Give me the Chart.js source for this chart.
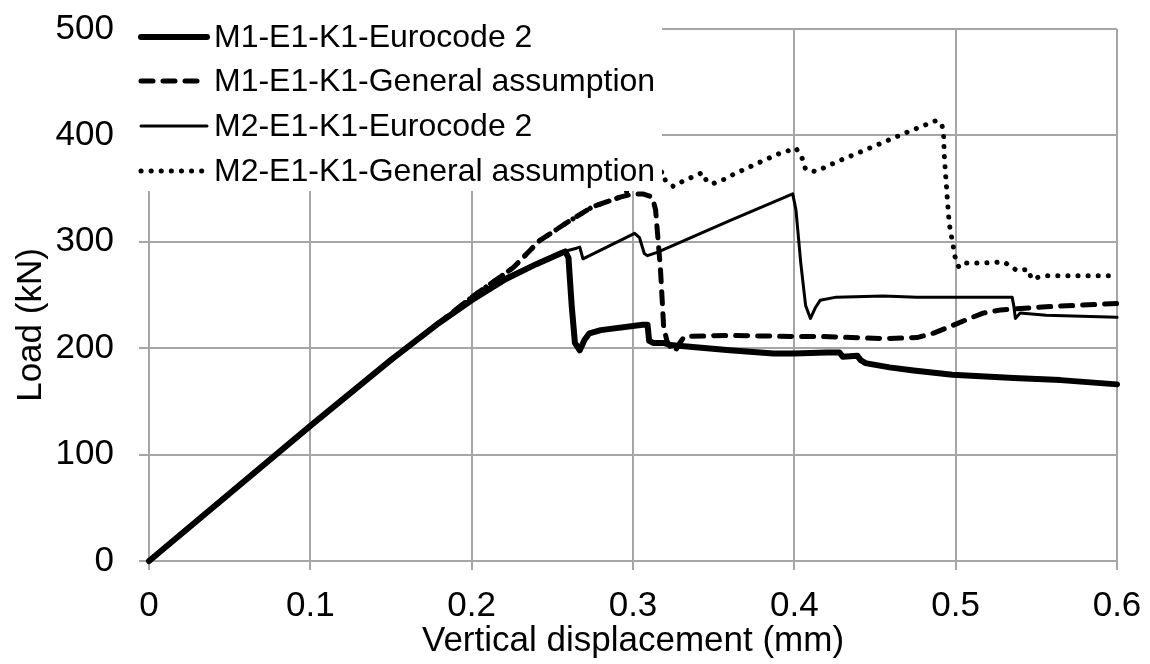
<!DOCTYPE html>
<html><head><meta charset="utf-8">
<script src="https://cdn.jsdelivr.net/npm/chart.js@4.4.1/dist/chart.umd.min.js"></script>
<style>html,body{margin:0;padding:0;background:#fff;}#wrap{width:1150px;height:664px;}</style>
</head><body><div id="wrap"><canvas id="c" width="1150" height="664"></canvas></div>
<script>
const seriesNames = ['M1-E1-K1-Eurocode 2','M1-E1-K1-General assumption','M2-E1-K1-Eurocode 2','M2-E1-K1-General assumption'];
const xTickValues = [0,0.1,0.2,0.3,0.4,0.5,0.6];
const xTickLabels = ['0','0.1','0.2','0.3','0.4','0.5','0.6'];
const yTickValues = [0,100,200,300,400,500];
const yTickLabels = ['0','100','200','300','400','500'];
const xAxisTitle = 'Vertical displacement (mm)';
const yAxisTitle = 'Load (kN)';

// M1-E1-K1-Eurocode 2 (thick solid)
const m1Ec2X = [0,0.1,0.15,0.18,0.2,0.22,0.24,0.255,0.258,0.260,0.262,0.264,0.267,0.270,0.273,0.28,0.306,0.309,0.310,0.3125,0.319,0.323,0.33,0.36,0.387,0.40,0.42,0.428,0.430,0.439,0.441,0.444,0.459,0.474,0.498,0.536,0.565,0.6];
const m1Ec2Y = [0,127,189,224,245,264,279,289,291,285,240,205,198,208,214,217,222,222,207,205,205,203,202,198,195,195,196,196,192,193,189,186,182,179,175,172,170,166];

// M1-E1-K1-General assumption (dashed)
const m1GaX = [0,0.1,0.15,0.18,0.2,0.226,0.242,0.259,0.275,0.292,0.300,0.306,0.312,0.314,0.317,0.319,0.321,0.324,0.326,0.329,0.332,0.36,0.40,0.416,0.455,0.476,0.486,0.496,0.507,0.517,0.528,0.538,0.556,0.6];
const m1GaY = [0,127,189,224,248,276,301,318,333,342,345,345,342,330,275,220,207,199,197,205,211,212,211,211,209,210,214,220,227,233,236,237,239,242];

// M2-E1-K1-Eurocode 2 (thin solid)
const m2Ec2X = [0,0.1,0.15,0.18,0.2,0.22,0.24,0.255,0.265,0.267,0.269,0.301,0.304,0.307,0.309,0.315,0.36,0.399,0.401,0.404,0.407,0.410,0.413,0.416,0.426,0.455,0.476,0.535,0.536,0.537,0.540,0.556,0.6];
const m2Ec2Y = [0,127,189,224,247,266,280,290,294,295,284,308,304,289,287,290,320,345,330,280,240,228,238,245,248,249,248,248,240,228,233,231,229];

// M2-E1-K1-General assumption (dotted)
const m2GaX = [0,0.1,0.15,0.18,0.2,0.226,0.242,0.259,0.275,0.292,0.30,0.31,0.3186,0.320,0.325,0.331,0.337,0.343,0.346,0.350,0.357,0.363,0.369,0.376,0.382,0.389,0.395,0.401,0.405,0.407,0.413,0.419,0.426,0.445,0.470,0.488,0.4915,0.4925,0.493,0.494,0.495,0.496,0.498,0.4996,0.502,0.506,0.515,0.530,0.535,0.538,0.545,0.547,0.5546,0.6];
const m2GaY = [0,127,189,224,248,276,301,318,333,342,352,361,366,358,352,357,361,365,356,355,359,364,368,373,377,382,385,388,378,368,366,370,375,387,403,414,410,400,380,358,337,317,300,286,276,280,280,281,276,273,274,265,268,268];

function pts(xs, ys){ return xs.map((x,i)=>({x:x, y:ys[i]})); }

const FONT = '"Liberation Sans", Arial, sans-serif';
const GRID = '#a6a6a6';

const styles = [
  {borderWidth:6, borderDash:[]},
  {borderWidth:5, borderDash:[12,10]},
  {borderWidth:3, borderDash:[]},
  {borderWidth:5, borderDash:[0.1,10]}
];

const data = {
  datasets: [
    {label:seriesNames[0], data:pts(m1Ec2X,m1Ec2Y), order:4},
    {label:seriesNames[1], data:pts(m1GaX,m1GaY), order:3},
    {label:seriesNames[2], data:pts(m2Ec2X,m2Ec2Y), order:2},
    {label:seriesNames[3], data:pts(m2GaX,m2GaY), order:1}
  ].map((d,i)=>Object.assign(d,{
    showLine:true, pointRadius:0, pointHoverRadius:0, borderColor:'#000', backgroundColor:'#000',
    borderWidth:styles[i].borderWidth, borderDash:styles[i].borderDash,
    borderCapStyle:'round', borderJoinStyle:'round', tension:0, fill:false, clip:false
  }))
};

const overlay = {
  id:'overlay',
  afterDraw(chart){
    const ctx = chart.ctx;
    ctx.save();
    ctx.fillStyle = '#fff';
    ctx.fillRect(133, 0, 529, 191);
    const rows = [37, 81, 126, 171];
    ctx.font = '32px ' + FONT;
    ctx.textBaseline = 'middle';
    ctx.textAlign = 'left';
    rows.forEach((ry,i)=>{
      ctx.save();
      ctx.strokeStyle = '#000';
      ctx.lineWidth = styles[i].borderWidth;
      ctx.lineCap = 'round';
      ctx.setLineDash(styles[i].borderDash);
      ctx.beginPath();
      ctx.moveTo(141, ry);
      ctx.lineTo(207, ry);
      ctx.stroke();
      ctx.restore();
      ctx.fillStyle = '#000';
      ctx.fillText(seriesNames[i], 214, ry + 1);
    });
    ctx.fillStyle = '#000';
    ctx.font = '35px ' + FONT;
    ctx.textAlign = 'center';
    ctx.textBaseline = 'middle';
    ctx.fillText(xAxisTitle, 633, 641);
    ctx.translate(31, 325);
    ctx.rotate(-Math.PI/2);
    ctx.fillText(yAxisTitle, 0, 0);
    ctx.restore();
  }
};

new Chart(document.getElementById('c'), {
  type:'scatter',
  data:data,
  plugins:[overlay],
  options:{
    responsive:false, animation:false, devicePixelRatio:1,
    layout:{padding:{left:0,right:33,top:29,bottom:0}},
    plugins:{legend:{display:false}, tooltip:{enabled:false}},
    scales:{
      x:{
        type:'linear', min:0, max:0.6,
        afterBuildTicks:s=>{ s.ticks = xTickValues.map(v=>({value:v})); },
        afterFit:s=>{ s.height = 103; s.paddingLeft = 0; s.paddingRight = 0; s.paddingTop = 0; s.paddingBottom = 0; },
        ticks:{ color:'#000', font:{family:FONT, size:35}, padding:15, maxRotation:0,
          callback:(v)=>{ const i = xTickValues.findIndex(t=>Math.abs(t-v)<1e-9); return i>=0 ? xTickLabels[i] : ''; } },
        grid:{ color:GRID, lineWidth:2, tickLength:9, tickColor:GRID, drawTicks:true },
        border:{ color:GRID, width:2 }
      },
      y:{
        type:'linear', min:0, max:500,
        afterBuildTicks:s=>{ s.ticks = yTickValues.map(v=>({value:v})); },
        afterFit:s=>{ s.width = 149; s.paddingLeft = 0; s.paddingRight = 0; s.paddingTop = 0; s.paddingBottom = 0; },
        ticks:{ color:'#000', font:{family:FONT, size:35}, padding:25,
          callback:(v)=>{ const i = yTickValues.indexOf(v); return i>=0 ? yTickLabels[i] : ''; } },
        grid:{ color:GRID, lineWidth:2, tickLength:10, tickColor:GRID, drawTicks:true },
        border:{ color:GRID, width:2 }
      }
    }
  }
});
</script></body></html>
